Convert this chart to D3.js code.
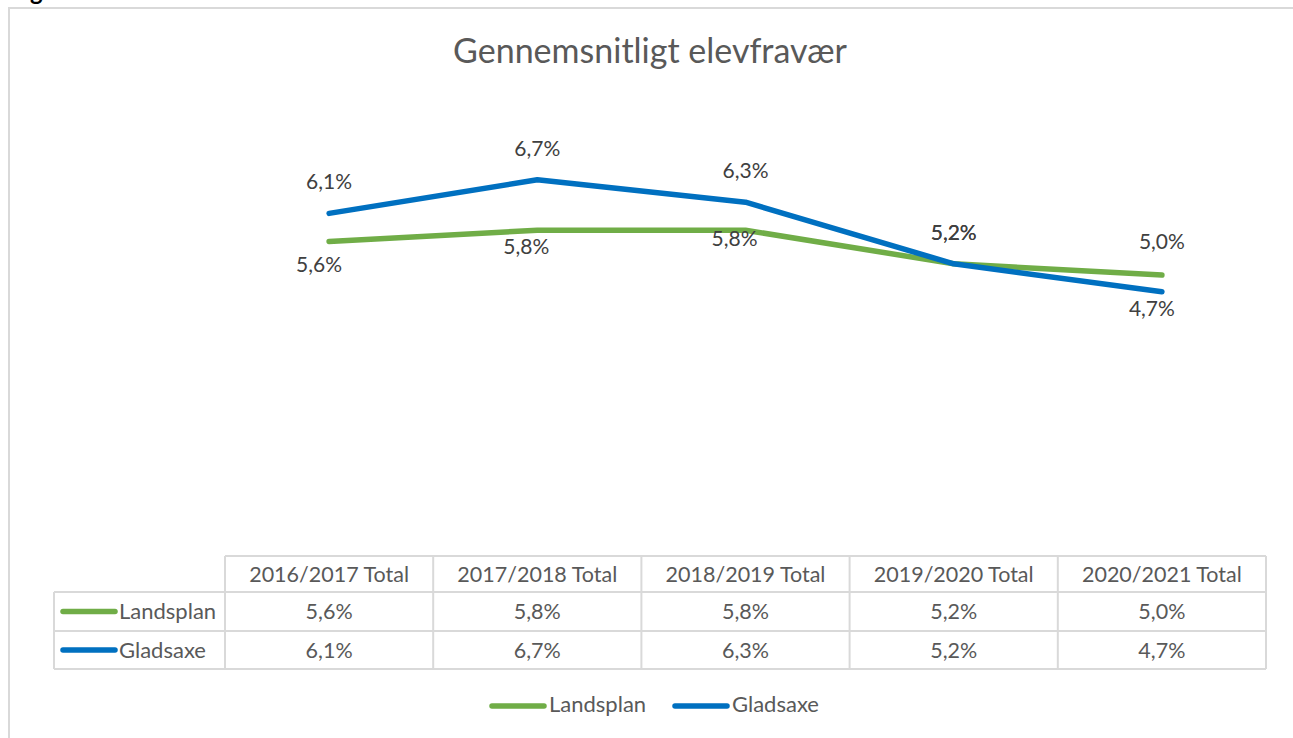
<!DOCTYPE html>
<html>
<head>
<meta charset="utf-8">
<script src="https://cdn.jsdelivr.net/npm/d3@7"></script>
<style>
  body { margin: 0; background: #fff; }
  svg { display: block; font-family: Lato, "Open Sans", sans-serif; }
</style>
</head>
<body>
<svg width="1293" height="738"></svg>
<script>
// chart data
var categories = ["2016/2017 Total", "2017/2018 Total", "2018/2019 Total", "2019/2020 Total", "2020/2021 Total"];
var seriesNames = ["Landsplan", "Gladsaxe"];
var landsplan = [5.6, 5.8, 5.8, 5.2, 5.0];
var gladsaxe = [6.1, 6.7, 6.3, 5.2, 4.7];
var colors = ["#70ad47", "#0070c0"];

// where each data label sits (Excel had them nudged by hand)
var landsLabelPos = ["below", "below", "below", "above", "above"];
var gladLabelPos = ["above", "above", "above", "above", "below"];
var landsNudge = [[-10, 7], [-11, 0], [-11, -8], [0, 0], [0, -2]];
var gladNudge = [[0, 0], [0, 0], [0, 0], [0, 0], [-10, 0]];

function fmt(v) { return v.toFixed(1).replace(".", ",") + "%"; }

var svg = d3.select("svg");
var textColor = "#595959",
    gridColor = "#d9d9d9";

// outer chart frame
svg.append("rect")
    .attr("x", 9).attr("y", 8)
    .attr("width", 1300).attr("height", 760)
    .attr("fill", "none")
    .attr("stroke", gridColor)
    .attr("stroke-width", 2);

// caption above the chart, cut off by the top edge in the original
svg.append("text")
    .attr("x", 30).attr("y", 0)
    .attr("font-weight", "bold")
    .attr("font-size", 24)
    .attr("fill", "#000")
    .text("g.");

svg.append("text")
    .attr("x", 650).attr("y", 63)
    .attr("text-anchor", "middle")
    .attr("font-size", 34)
    .attr("fill", textColor)
    .text("Gennemsnitligt elevfravær");

var x = d3.scaleBand().domain(categories).range([225, 1266]).padding(0);
var y = d3.scaleLinear().domain([0, 8]).range([555, 107]);
var cx = function(c) { return x(c) + x.bandwidth() / 2; };

var series = [
  { name: seriesNames[0], values: landsplan, color: colors[0], pos: landsLabelPos, nudge: landsNudge },
  { name: seriesNames[1], values: gladsaxe, color: colors[1], pos: gladLabelPos, nudge: gladNudge }
];

var line = d3.line()
    .x(function(d) { return cx(d.cat); })
    .y(function(d) { return y(d.v); });

var plot = svg.append("g");

series.forEach(function(s) {
  var pts = s.values.map(function(v, i) { return { cat: categories[i], v: v }; });
  plot.append("path")
      .datum(pts)
      .attr("d", line)
      .attr("fill", "none")
      .attr("stroke", s.color)
      .attr("stroke-width", 5.5)
      .attr("stroke-linejoin", "round")
      .attr("stroke-linecap", "round");
});

series.forEach(function(s) {
  plot.selectAll(null)
    .data(s.values)
    .enter().append("text")
      .attr("x", function(d, i) { return cx(categories[i]) + s.nudge[i][0]; })
      .attr("y", function(d, i) {
        var base = s.pos[i] === "above" ? y(d) - 24 : y(d) + 24;
        return base + s.nudge[i][1];
      })
      .attr("text-anchor", "middle")
      .attr("font-size", 21)
      .attr("fill", "#404040")
      .text(fmt);
});

// data table under the chart
var rowTop = [556, 592, 631, 669];
var table = svg.append("g")
    .attr("stroke", gridColor)
    .attr("stroke-width", 2)
    .attr("fill", "none");

// horizontal rules
table.append("line").attr("x1", 225).attr("x2", 1266).attr("y1", rowTop[0]).attr("y2", rowTop[0]);
[1, 2, 3].forEach(function(r) {
  table.append("line").attr("x1", 54).attr("x2", 1266).attr("y1", rowTop[r]).attr("y2", rowTop[r]);
});
// vertical rules
table.append("line").attr("x1", 54).attr("x2", 54).attr("y1", rowTop[1]).attr("y2", rowTop[3]);
categories.forEach(function(c) {
  table.append("line").attr("x1", x(c)).attr("x2", x(c)).attr("y1", rowTop[0]).attr("y2", rowTop[3]);
});
table.append("line").attr("x1", 1266).attr("x2", 1266).attr("y1", rowTop[0]).attr("y2", rowTop[3]);

svg.selectAll(".hdr")
  .data(categories)
  .enter().append("text")
    .attr("class", "hdr")
    .attr("x", cx)
    .attr("y", 582)
    .attr("text-anchor", "middle")
    .attr("font-size", 21.5)
    .attr("fill", textColor)
    .text(function(d) { return d; });

var rowBase = [619, 658];
series.forEach(function(s, r) {
  var midY = (rowTop[r + 1] + rowTop[r + 2]) / 2;
  svg.append("line")
      .attr("x1", 63).attr("x2", 115)
      .attr("y1", midY).attr("y2", midY)
      .attr("stroke", s.color)
      .attr("stroke-width", 5.5)
      .attr("stroke-linecap", "round");
  svg.append("text")
      .attr("x", 119).attr("y", rowBase[r])
      .attr("font-size", 22)
      .attr("fill", textColor)
      .text(s.name);
  svg.selectAll(null)
    .data(s.values)
    .enter().append("text")
      .attr("x", function(d, i) { return cx(categories[i]); })
      .attr("y", rowBase[r])
      .attr("text-anchor", "middle")
      .attr("font-size", 21.5)
      .attr("fill", textColor)
      .text(fmt);
});

// legend
var legendX = [492, 675];
series.forEach(function(s, i) {
  var lx = legendX[i];
  svg.append("line")
      .attr("x1", lx).attr("x2", lx + 52)
      .attr("y1", 706).attr("y2", 706)
      .attr("stroke", s.color)
      .attr("stroke-width", 5.5)
      .attr("stroke-linecap", "round");
  svg.append("text")
      .attr("x", lx + 57).attr("y", 712)
      .attr("font-size", 22)
      .attr("fill", textColor)
      .text(s.name);
});
</script>
</body>
</html>
